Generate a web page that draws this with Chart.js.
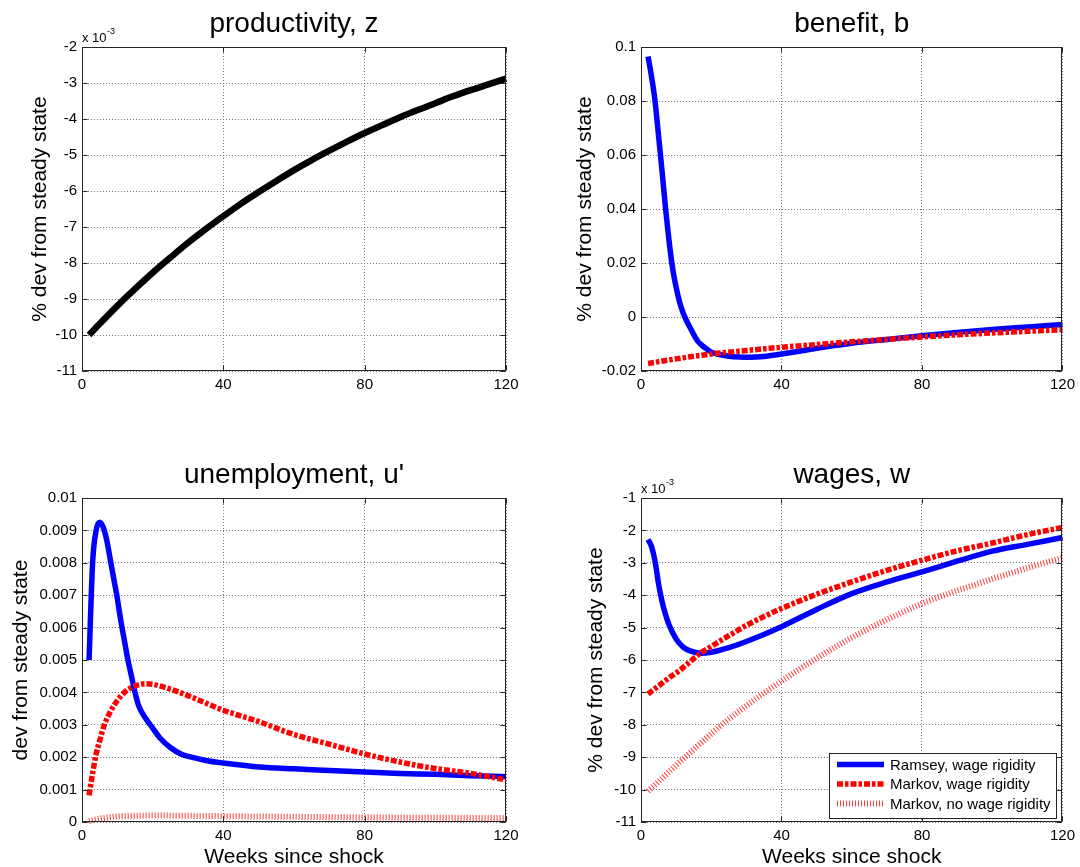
<!DOCTYPE html>
<html>
<head>
<meta charset="utf-8">
<title>Impulse responses</title>
<script src="https://cdn.jsdelivr.net/npm/chart.js@4.4.0/dist/chart.umd.min.js"></script>
<style>
  body { margin: 0; background: #fff; }
  #wrap { position: relative; width: 1080px; height: 867px; overflow: hidden; }
  canvas { position: absolute; }
</style>
</head>
<body>
<div id="wrap">
  <canvas id="cz" width="540" height="420" style="left:0;top:0"></canvas>
  <canvas id="cb" width="540" height="420" style="left:540px;top:0"></canvas>
  <canvas id="cu" width="540" height="447" style="left:0;top:420px"></canvas>
  <canvas id="cw" width="540" height="447" style="left:540px;top:420px"></canvas>
</div>
<script>
// Series (weeks since shock on x)

// productivity, z  (x 10^-3)
const weeksZ = [2, 5, 10, 15, 20, 25, 30, 35, 40, 45, 50, 55, 60, 65, 70, 75, 80, 85, 90, 95, 100, 105, 110, 115, 120];
const prodZ = [-10.0, -9.69, -9.19, -8.72, -8.27, -7.85, -7.44, -7.06, -6.70, -6.35, -6.03, -5.72, -5.42, -5.14, -4.88, -4.63, -4.39, -4.17, -3.95, -3.75, -3.56, -3.37, -3.20, -3.04, -2.88];

// benefit, b
const weeksBRamsey = [2, 3, 4, 5, 6, 7, 8, 9, 10, 11, 12, 13, 14, 16, 18, 20, 22, 25, 28, 31, 35, 40, 45, 50, 55, 60, 70, 80, 90, 100, 110, 120];
const benefitRamsey = [0.0965, 0.089, 0.080, 0.067, 0.054, 0.040, 0.028, 0.018, 0.011, 0.0055, 0.0015, -0.0015, -0.004, -0.0087, -0.0112, -0.013, -0.0138, -0.0145, -0.0148, -0.0149, -0.0146, -0.0137, -0.0127, -0.0116, -0.0106, -0.0097, -0.0083, -0.0069, -0.0057, -0.0046, -0.0037, -0.0028];
const weeksBMarkov = [2, 10, 20, 30, 40, 50, 60, 70, 80, 90, 100, 110, 120];
const benefitMarkov = [-0.0172, -0.0155, -0.0137, -0.0124, -0.0112, -0.0102, -0.0092, -0.0083, -0.0074, -0.0066, -0.0059, -0.0053, -0.0047];

// unemployment, u'
const weeksURamsey = [2, 3, 4, 5, 6, 7, 8, 9, 10, 11, 12, 13, 14, 15, 16, 18, 20, 22, 25, 28, 31, 35, 40, 50, 60, 70, 80, 90, 100, 110, 120];
const unempRamsey = [0.0050, 0.0080, 0.0090, 0.00925, 0.0091, 0.0087, 0.0081, 0.0075, 0.0069, 0.0062, 0.0056, 0.0050, 0.0045, 0.0040, 0.0036, 0.0032, 0.0029, 0.0026, 0.0023, 0.0021, 0.0020, 0.0019, 0.00182, 0.00170, 0.00164, 0.00159, 0.00154, 0.00150, 0.00147, 0.00143, 0.00140];
const weeksUMarkov = [2, 3, 4, 5, 6, 8, 10, 12, 15, 18, 20, 25, 30, 40, 50, 60, 70, 80, 90, 100, 110, 120];
const unempMarkov = [0.00082, 0.0015, 0.0021, 0.0025, 0.0029, 0.0034, 0.00375, 0.0040, 0.0042, 0.00427, 0.00425, 0.0041, 0.0039, 0.00345, 0.0031, 0.0027, 0.0024, 0.0021, 0.00185, 0.00165, 0.0015, 0.0013];
const weeksUNoRigid = [2, 4, 6, 8, 10, 15, 20, 30, 40, 60, 80, 100, 120];
const unempNoRigid = [0.00003, 0.00008, 0.00012, 0.00015, 0.00017, 0.00019, 0.00020, 0.00019, 0.00018, 0.00016, 0.00014, 0.00013, 0.00012];

// wages, w  (x 10^-3)
const weeksWRamsey = [2, 3, 4, 5, 6, 7, 8, 10, 12, 14, 17, 20, 25, 30, 40, 50, 60, 70, 80, 90, 100, 110, 120];
const wageRamsey = [-2.28, -2.50, -2.95, -3.65, -4.20, -4.60, -4.92, -5.35, -5.60, -5.72, -5.79, -5.76, -5.62, -5.43, -4.97, -4.44, -3.95, -3.59, -3.28, -2.95, -2.64, -2.43, -2.22];
const weeksWMarkov = [2, 5, 8, 11, 14, 17, 20, 25, 30, 35, 40, 50, 60, 70, 80, 90, 100, 110, 120];
const wageMarkov = [-7.05, -6.80, -6.55, -6.32, -6.05, -5.78, -5.58, -5.25, -4.93, -4.66, -4.41, -3.97, -3.59, -3.23, -2.92, -2.63, -2.39, -2.13, -1.91];
const weeksWNoRigid = [2, 6, 10, 15, 20, 25, 30, 35, 40, 45, 50, 55, 60, 65, 70, 75, 80, 85, 90, 95, 100, 105, 110, 115, 120];
const wageNoRigid = [-10.05, -9.65, -9.25, -8.76, -8.28, -7.82, -7.41, -7.02, -6.65, -6.29, -5.95, -5.62, -5.31, -5.02, -4.75, -4.50, -4.26, -4.05, -3.86, -3.68, -3.50, -3.33, -3.16, -3.00, -2.85];

const seriesNames = ['Ramsey, wage rigidity', 'Markov, wage rigidity', 'Markov, no wage rigidity'];
const xTicks = [0, 40, 80, 120];

const FONT = '"Liberation Sans", Arial, Helvetica, sans-serif';
Chart.defaults.font.family = FONT;
Chart.defaults.color = '#000';

// line looks (matlab style)
const ramseyStyle = { borderColor: '#0000ff', borderWidth: 5.5, order: 2 };
const markovStyle = { borderColor: '#ff0000', borderWidth: 5.5, borderDash: [6, 2, 3.5, 2], order: 1 };
const noRigidStyle = { borderColor: '#ff3b3b', borderWidth: 6, borderDash: [1, 2], order: 0 };

function pts(xs, ys) {
  return xs.map((x, i) => ({ x: x, y: ys[i] }));
}

function line(label, xs, ys, style) {
  return Object.assign({
    label: label,
    data: pts(xs, ys),
    pointRadius: 0,
    fill: false,
    borderCapStyle: 'butt',
    borderJoinStyle: 'round',
    cubicInterpolationMode: 'monotone',
    clip: 8
  }, style);
}

// box, inward ticks, panel title, exponent and legend
const matlabLook = {
  id: 'matlabLook',
  afterDraw(chart, args, opts) {
    const ctx = chart.ctx;
    const a = chart.chartArea;
    const sx = chart.scales.x, sy = chart.scales.y;
    const L = Math.round(a.left) + 0.5, R = Math.round(a.right) - 0.5;
    const T = Math.round(a.top) + 0.5, B = Math.round(a.bottom) - 0.5;
    ctx.save();
    ctx.setLineDash([]);
    ctx.strokeStyle = '#262626';
    ctx.lineWidth = 1;
    ctx.strokeRect(L, T, R - L, B - T);
    ctx.beginPath();
    sy.ticks.forEach(t => {
      const y = Math.round(sy.getPixelForValue(t.value)) + 0.5;
      ctx.moveTo(L, y); ctx.lineTo(L + 5, y);
      ctx.moveTo(R, y); ctx.lineTo(R - 5, y);
    });
    sx.ticks.forEach(t => {
      const x = Math.round(sx.getPixelForValue(t.value)) + 0.5;
      ctx.moveTo(x, B); ctx.lineTo(x, B - 5);
      ctx.moveTo(x, T); ctx.lineTo(x, T + 5);
    });
    ctx.stroke();

    ctx.fillStyle = '#000';
    ctx.textAlign = 'center';
    ctx.textBaseline = 'alphabetic';
    ctx.font = '28px ' + FONT;
    ctx.fillText(opts.title, (a.left + a.right) / 2, a.top - 15);

    if (opts.exponent) {
      ctx.textAlign = 'left';
      ctx.font = '13px ' + FONT;
      ctx.fillText('x 10', a.left, a.top - 5);
      const w = ctx.measureText('x 10').width;
      ctx.font = '9px ' + FONT;
      ctx.fillText('-3', a.left + w + 0.5, a.top - 13);
    }

    if (opts.legend) {
      const bw = 227, bh = 65;
      const right = Math.round(a.right) - 6, bottom = Math.round(a.bottom) - 4;
      const left = right - bw, top = bottom - bh;
      ctx.fillStyle = '#fff';
      ctx.fillRect(left, top, bw, bh);
      ctx.strokeStyle = '#262626';
      ctx.lineWidth = 1;
      ctx.strokeRect(left + 0.5, top + 0.5, bw, bh);
      chart.data.datasets.forEach((ds, i) => {
        const y = top + 11.5 + i * 19.5;
        ctx.strokeStyle = ds.borderColor;
        ctx.lineWidth = ds.borderWidth;
        ctx.lineCap = 'butt';
        ctx.setLineDash(ds.borderDash || []);
        ctx.beginPath();
        ctx.moveTo(left + 8, y);
        ctx.lineTo(left + 55, y);
        ctx.stroke();
        ctx.setLineDash([]);
        ctx.fillStyle = '#000';
        ctx.font = '15px ' + FONT;
        ctx.textAlign = 'left';
        ctx.textBaseline = 'middle';
        ctx.fillText(ds.label, left + 61, y + 1);
      });
    }
    ctx.restore();
  }
};

function makePanel(id, p) {
  const yFmt = v => parseFloat(v.toFixed(4)).toString();
  return new Chart(document.getElementById(id), {
    type: 'line',
    data: { datasets: p.datasets },
    plugins: [matlabLook],
    options: {
      responsive: false,
      animation: false,
      events: [],
      devicePixelRatio: 1,
      layout: { padding: { left: 0, top: p.top, right: p.right, bottom: 0 } },
      scales: {
        x: {
          type: 'linear',
          min: 0,
          max: 120,
          afterBuildTicks: s => { s.ticks = xTicks.map(v => ({ value: v })); },
          afterFit: s => { s.height = p.xHeight; },
          ticks: { font: { size: 15 }, padding: 5, maxRotation: 0, autoSkip: false, color: '#000' },
          grid: { color: '#7a7a7a', lineWidth: 1, drawTicks: false },
          border: { display: false, dash: [1, 2] },
          title: {
            display: !!p.xTitle,
            text: p.xTitle || '',
            font: { size: 21, lineHeight: 0.9 },
            padding: { top: 0, bottom: 0 },
            color: '#000'
          }
        },
        y: {
          type: 'linear',
          min: p.yMin,
          max: p.yMax,
          afterFit: s => { s.width = p.left; },
          ticks: { stepSize: p.yStep, font: { size: 15 }, padding: 5, autoSkip: false, color: '#000', callback: yFmt },
          grid: { color: '#7a7a7a', lineWidth: 1, drawTicks: false },
          border: { display: false, dash: [1, 2] },
          title: {
            display: true,
            text: p.yTitle,
            font: { size: 21 },
            padding: { top: p.yTitlePad, bottom: 0 },
            color: '#000'
          }
        }
      },
      plugins: {
        legend: { display: false },
        tooltip: { enabled: false },
        matlabLook: { title: p.title, exponent: !!p.exponent, legend: !!p.legend }
      }
    }
  });
}

makePanel('cz', {
  title: 'productivity, z', yTitle: '% dev from steady state', yTitlePad: 28,
  left: 82, right: 34, top: 47, xHeight: 49,
  yMin: -11, yMax: -2, yStep: 1, exponent: true,
  datasets: [line('productivity', weeksZ, prodZ, { borderColor: '#000', borderWidth: 6.5 })]
});

makePanel('cb', {
  title: 'benefit, b', yTitle: '% dev from steady state', yTitlePad: 33,
  left: 101, right: 15, top: 47, xHeight: 49,
  yMin: -0.02, yMax: 0.1, yStep: 0.02,
  datasets: [
    line(seriesNames[0], weeksBRamsey, benefitRamsey, ramseyStyle),
    line(seriesNames[1], weeksBMarkov, benefitMarkov, markovStyle)
  ]
});

makePanel('cu', {
  title: "unemployment, u'", yTitle: 'dev from steady state', yTitlePad: 9,
  left: 82, right: 34, top: 78, xHeight: 45, xTitle: 'Weeks since shock',
  yMin: 0, yMax: 0.01, yStep: 0.001,
  datasets: [
    line(seriesNames[0], weeksURamsey, unempRamsey, ramseyStyle),
    line(seriesNames[1], weeksUMarkov, unempMarkov, markovStyle),
    line(seriesNames[2], weeksUNoRigid, unempNoRigid, noRigidStyle)
  ]
});

makePanel('cw', {
  title: 'wages, w', yTitle: '% dev from steady state', yTitlePad: 44,
  left: 101, right: 15, top: 78, xHeight: 45, xTitle: 'Weeks since shock',
  yMin: -11, yMax: -1, yStep: 1, exponent: true, legend: true,
  datasets: [
    line(seriesNames[0], weeksWRamsey, wageRamsey, ramseyStyle),
    line(seriesNames[1], weeksWMarkov, wageMarkov, markovStyle),
    line(seriesNames[2], weeksWNoRigid, wageNoRigid, noRigidStyle)
  ]
});
</script>
</body>
</html>
